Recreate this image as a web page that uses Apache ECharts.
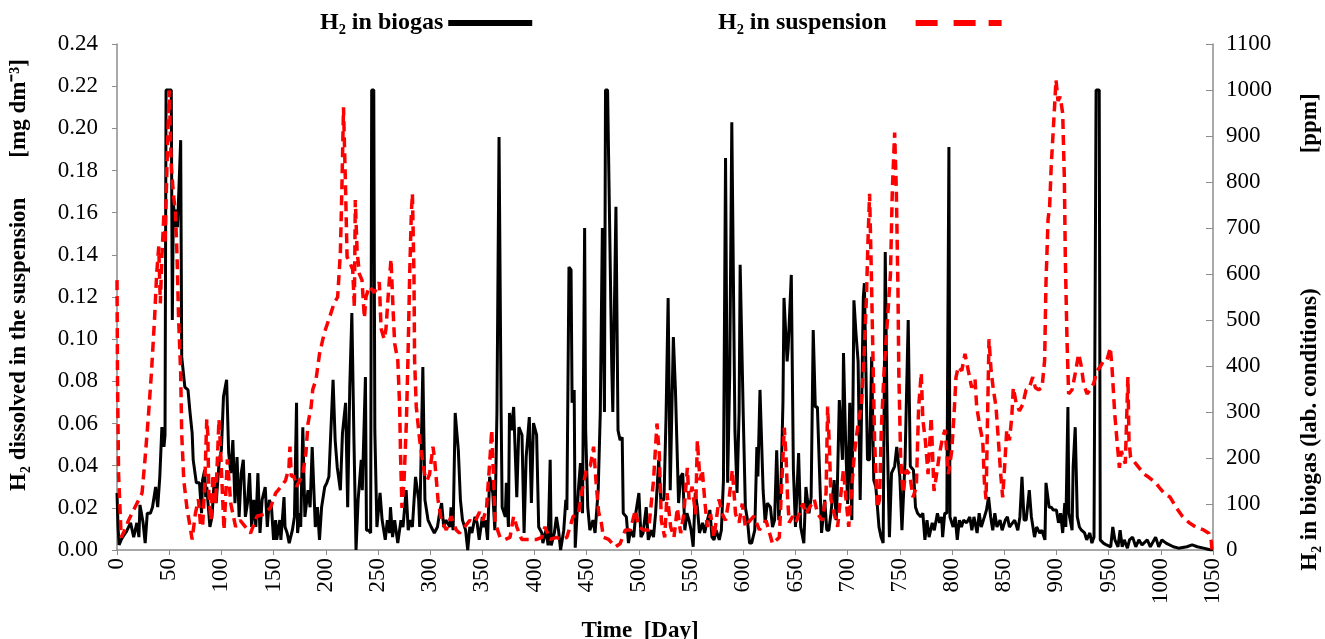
<!DOCTYPE html>
<html>
<head>
<meta charset="utf-8">
<script src="https://cdn.jsdelivr.net/npm/echarts@6/dist/echarts.min.js"></script>
<style>
html,body{margin:0;padding:0;background:#fff;}
#chart{width:1325px;height:639px;}
</style>
</head>
<body>
<div id="chart"></div>
<script>
// Day ticks (x axis), left axis [mg dm-3], right axis [ppm]
const dayTicks = [0,50,100,150,200,250,300,350,400,450,500,550,600,650,700,750,800,850,900,950,1000,1050];
const leftTicks = [0,0.02,0.04,0.06,0.08,0.10,0.12,0.14,0.16,0.18,0.20,0.22,0.24];
const rightTicks = [0,100,200,300,400,500,600,700,800,900,1000,1100];

const seriesNames = ['H\u2082 in biogas', 'H\u2082 in suspension'];

// H2 in biogas [day, ppm]
const biogasData = [[0,124],[1,50],[2,11],[4,22],[6,30],[9,40],[13,59],[16,28],[19,59],[21,28],[22,98],[25,59],[27,15],[29,80],[32,80],[34,93],[37,137],[39,93],[41,159],[43,267],[45,224],[46,250],[47,1000],[52,1000],[53,500],[54,754],[56,702],[57,740],[58,702],[61,891],[62,420],[63,398],[65,354],[68,348],[70,298],[72,254],[73,196],[76,146],[79,146],[81,80],[82,152],[84,174],[85,115],[86,137],[89,50],[91,72],[93,146],[95,102],[98,196],[100,217],[102,333],[105,370],[107,211],[109,167],[111,239],[113,102],[115,202],[117,72],[119,167],[121,196],[123,72],[125,102],[127,167],[129,50],[131,109],[133,50],[135,167],[137,37],[139,109],[142,137],[144,50],[146,109],[148,93],[150,22],[152,65],[153,22],[156,65],[157,22],[160,115],[161,50],[163,37],[165,15],[168,43],[170,72],[172,320],[173,37],[175,80],[176,50],[178,267],[180,72],[183,130],[185,93],[187,224],[190,50],[192,93],[194,22],[196,93],[199,137],[201,146],[203,159],[207,370],[209,239],[211,180],[214,130],[216,254],[219,320],[221,93],[223,354],[225,515],[227,239],[229,0],[231,109],[234,196],[235,130],[238,376],[239,43],[241,43],[243,37],[244,1000],[246,1000],[247,260],[249,50],[252,124],[254,65],[257,22],[259,65],[261,37],[262,93],[264,28],[266,65],[269,15],[272,65],[274,50],[277,130],[279,43],[281,65],[283,50],[286,159],[289,109],[290,50],[293,398],[295,109],[298,65],[301,50],[304,37],[307,50],[309,80],[311,102],[313,50],[315,65],[319,50],[320,93],[322,43],[324,298],[327,217],[329,109],[331,65],[334,43],[336,0],[338,50],[340,37],[343,72],[345,59],[347,22],[350,72],[351,50],[353,65],[355,22],[357,159],[360,124],[362,43],[364,300],[366,898],[368,300],[369,93],[372,72],[373,146],[375,50],[376,298],[378,260],[380,311],[383,115],[385,267],[388,250],[390,37],[392,202],[395,289],[397,102],[399,276],[402,250],[404,50],[407,37],[408,15],[411,43],[413,10],[415,196],[416,10],[419,37],[421,72],[423,43],[425,0],[428,43],[430,109],[431,87],[433,615],[435,609],[436,320],[438,348],[439,5],[442,130],[444,189],[446,80],[448,700],[449,260],[451,93],[453,43],[456,65],[458,37],[461,130],[463,298],[465,700],[467,300],[468,1000],[470,1000],[474,398],[475,300],[478,746],[480,260],[482,239],[484,245],[485,80],[488,72],[490,15],[492,43],[495,28],[497,80],[500,124],[502,28],[504,37],[507,93],[509,22],[512,43],[514,28],[516,80],[519,196],[521,109],[524,109],[526,289],[528,548],[530,130],[533,463],[535,348],[538,102],[540,159],[542,167],[544,43],[546,80],[548,65],[550,43],[552,7],[554,124],[556,93],[558,37],[561,59],[563,37],[565,59],[568,87],[570,28],[572,22],[574,43],[577,22],[579,43],[581,152],[583,852],[585,146],[587,380],[589,930],[592,260],[594,124],[596,300],[597,620],[600,290],[602,93],[604,65],[606,15],[608,15],[611,43],[613,224],[614,160],[616,348],[619,130],[621,59],[623,102],[626,93],[628,50],[630,65],[632,217],[634,65],[636,130],[638,320],[639,548],[642,410],[643,440],[646,598],[648,174],[650,50],[653,211],[655,50],[658,15],[660,137],[663,80],[665,115],[667,478],[669,311],[671,311],[673,174],[675,37],[678,109],[680,43],[682,43],[684,80],[687,152],[689,65],[690,124],[692,326],[695,196],[696,428],[698,239],[700,100],[702,320],[704,65],[706,543],[708,470],[710,410],[712,109],[715,550],[716,580],[719,196],[721,196],[723,420],[725,152],[727,137],[730,50],[732,28],[734,15],[736,648],[738,239],[740,28],[742,167],[745,182],[747,224],[750,159],[752,43],[755,196],[758,500],[760,182],[763,174],[765,93],[767,80],[770,72],[772,80],[774,22],[776,65],[778,28],[781,59],[783,43],[786,80],[788,59],[790,72],[791,28],[793,80],[795,80],[797,876],[798,72],[801,50],[803,72],[805,22],[807,65],[809,50],[811,65],[814,59],[817,72],[819,43],[821,72],[824,37],[826,80],[828,50],[831,72],[833,87],[835,115],[837,72],[839,43],[841,80],[843,50],[846,65],[848,43],[851,65],[853,72],[855,50],[858,59],[860,65],[863,43],[865,72],[867,159],[869,65],[871,65],[874,130],[876,72],[879,28],[881,50],[884,37],[886,43],[889,22],[890,146],[893,93],[895,93],[897,87],[900,87],[902,59],[904,80],[906,37],[908,102],[909,50],[911,311],[912,80],[915,43],[916,180],[918,267],[920,72],[922,50],[924,43],[927,37],[929,22],[932,37],[934,15],[936,28],[938,1000],[941,1000],[942,22],[945,15],[948,11],[952,7],[954,50],[956,22],[959,7],[961,43],[963,7],[965,22],[968,4],[970,22],[973,28],[976,7],[979,22],[982,11],[987,22],[990,7],[995,28],[998,7],[1001,22],[1005,15],[1012,7],[1017,4],[1025,7],[1030,11],[1035,7],[1041,4],[1048,0],[1050,0]];

// H2 in suspension [day, mg dm-3]
const suspensionData = [[0,0.128],[0.5,0.08],[1.5,0.036],[4,0.006],[8,0.01],[11,0.014],[17,0.02],[24,0.027],[27,0.044],[30,0.063],[33,0.084],[36,0.11],[38,0.131],[40,0.144],[41.5,0.117],[43,0.139],[45,0.16],[46,0.145],[48,0.185],[50,0.218],[52,0.182],[54,0.169],[56,0.16],[57.5,0.14],[59,0.11],[61,0.084],[62,0.055],[64,0.033],[67,0.02],[70,0.011],[72,0.005],[75,0.017],[78,0.024],[80,0.012],[82,0.011],[84,0.03],[86,0.062],[87,0.055],[88,0.027],[90,0.014],[92,0.036],[94.5,0.022],[97.7,0.062],[99,0.05],[101,0.027],[102.5,0.0095],[104,0.024],[105.7,0.043],[107,0.035],[109,0.022],[113.6,0.011],[118,0.014],[123,0.011],[128,0.008],[134,0.016],[141,0.017],[147,0.02],[152,0.027],[157,0.03],[161.5,0.033],[164.7,0.039],[165.7,0.049],[167,0.035],[169.5,0.035],[172,0.03],[178,0.036],[181,0.046],[183,0.06],[186,0.068],[187.5,0.076],[190.7,0.081],[194,0.093],[198.6,0.103],[203.4,0.11],[208,0.117],[211.4,0.12],[214,0.141],[215.6,0.175],[217,0.21],[218.8,0.175],[220.4,0.139],[222.6,0.137],[225.8,0.133],[227.4,0.115],[228.3,0.166],[230,0.142],[232.2,0.131],[234.7,0.128],[237,0.11],[238.5,0.12],[241.7,0.125],[246.5,0.122],[251.3,0.127],[253,0.105],[256,0.1],[257.7,0.105],[260,0.122],[262.5,0.138],[264.4,0.115],[266,0.098],[269,0.09],[270.8,0.068],[271.7,0.044],[273,0.02],[275,0.033],[277.2,0.06],[278.8,0.092],[280.4,0.131],[282,0.16],[283,0.169],[284.5,0.131],[285.1,0.09],[286.7,0.068],[290,0.052],[294.7,0.036],[297,0.033],[299.5,0.036],[302.7,0.049],[304.3,0.043],[307.5,0.024],[310.7,0.014],[315.5,0.0095],[320,0.016],[325,0.0095],[328,0.008],[333,0.011],[338,0.014],[342.6,0.013],[347.4,0.018],[350.6,0.014],[354,0.02],[357.4,0.044],[359,0.057],[360.6,0.036],[362.2,0.013],[367,0.006],[371.7,0.005],[376.5,0.006],[380,0.016],[383,0.011],[387.7,0.005],[392.5,0.005],[397.3,0.005],[402,0.005],[407,0.006],[410,0.011],[415,0.005],[421,0.006],[426,0.005],[431,0.006],[434,0.011],[437,0.016],[442,0.017],[445.5,0.028],[450,0.039],[453.5,0.04],[456.6,0.049],[459,0.032],[461.4,0.018],[464,0.013],[466,0.006],[471,0.005],[477.4,0.0015],[482,0.003],[487,0.0095],[491.8,0.0095],[496.6,0.019],[499.8,0.011],[504.5,0.0095],[509.3,0.0095],[514,0.033],[517.3,0.06],[519.6,0.045],[521.5,0.014],[524.7,0.006],[527,0.027],[530.4,0.011],[533.6,0.006],[536.8,0.02],[540,0.008],[543,0.017],[546.4,0.039],[548,0.024],[551,0.03],[554.3,0.017],[556,0.052],[558.5,0.033],[560.7,0.038],[563,0.024],[565.5,0.011],[568.7,0.017],[572,0.006],[576.7,0.024],[580,0.017],[583,0.014],[586.3,0.024],[589.5,0.038],[592.6,0.017],[596,0.013],[599,0.022],[602,0.011],[606.4,0.014],[610.2,0.016],[615.4,0.0095],[621.8,0.014],[628,0.003],[634.5,0.006],[639.3,0.058],[641,0.044],[642.5,0.024],[644,0.013],[647.3,0.016],[650.5,0.013],[657,0.022],[660,0.017],[663.3,0.02],[668,0.024],[671.3,0.017],[676,0.014],[679.3,0.027],[680.8,0.068],[682.5,0.049],[684,0.024],[687.2,0.017],[690.4,0.011],[693.6,0.027],[695.9,0.038],[698.4,0.024],[701,0.011],[703.5,0.027],[706.7,0.047],[710,0.06],[713,0.068],[715.6,0.09],[717.9,0.119],[719.5,0.147],[721,0.169],[722.7,0.131],[724.3,0.09],[725.8,0.052],[728.4,0.02],[730.6,0.024],[732.2,0.057],[734.8,0.084],[738.6,0.113],[741,0.131],[742.8,0.171],[745,0.198],[746.6,0.171],[748.2,0.123],[749,0.084],[750.8,0.043],[753,0.027],[756,0.038],[759.4,0.036],[762.6,0.025],[765.8,0.03],[768,0.068],[770.5,0.084],[772,0.062],[774.4,0.052],[777,0.036],[780,0.063],[782.7,0.028],[784.9,0.035],[788.1,0.046],[791.3,0.054],[793.3,0.057],[796.5,0.036],[799.7,0.047],[802,0.065],[803.8,0.082],[806,0.087],[809.3,0.085],[812.4,0.093],[815.6,0.085],[818.8,0.077],[822,0.081],[823.6,0.068],[826.8,0.058],[829.4,0.052],[831,0.032],[832.6,0.024],[834.2,0.068],[835.4,0.1],[837.4,0.085],[839.6,0.076],[842.1,0.068],[844.4,0.052],[846.6,0.036],[848.5,0.025],[850.8,0.043],[852.4,0.057],[855,0.052],[857.2,0.063],[858.7,0.077],[861.3,0.07],[864.5,0.066],[867.7,0.069],[870.9,0.076],[874,0.077],[877.3,0.082],[879.8,0.077],[883,0.076],[886.2,0.077],[888.7,0.09],[890,0.127],[892,0.157],[893.5,0.163],[895,0.182],[897.4,0.203],[899.6,0.223],[901.5,0.213],[903.7,0.215],[906,0.207],[907.6,0.176],[908.5,0.139],[910.1,0.1],[911.7,0.074],[915,0.076],[918.1,0.084],[921.3,0.093],[923.9,0.087],[926,0.079],[929.3,0.074],[932.5,0.076],[935.7,0.079],[938.9,0.085],[942,0.087],[945.3,0.09],[948.4,0.09],[951.6,0.096],[953.2,0.087],[955.8,0.065],[958,0.052],[960.3,0.039],[962.2,0.047],[964.4,0.043],[966,0.041],[967.6,0.068],[968.5,0.082],[969.5,0.052],[971,0.044],[976,0.041],[984,0.036],[987,0.035],[995,0.032],[998,0.03],[1003,0.027],[1009,0.025],[1015,0.02],[1020.6,0.016],[1027,0.013],[1033,0.011],[1041,0.0095],[1046,0.008],[1048.4,0.004],[1049,0.0]];

const FONT = '"Liberation Serif","Times New Roman",serif';
const axisGrey = '#8c8c8c';
const titleStyle = {fontFamily: FONT, fontWeight: 'bold', fontSize: 23, color: '#000'};

const chart = echarts.init(document.getElementById('chart'), null, {renderer:'canvas'});
chart.setOption({
  animation: false,
  backgroundColor: '#ffffff',
  grid: {left: 117, right: 112, top: 44, bottom: 89, containLabel: false, outerBoundsMode: 'none'},
  legend: [
    {data: [{name: seriesNames[0], icon: 'rect'}], left: 315, top: 6, align: 'right',
     itemWidth: 84, itemHeight: 6,
     textStyle: {fontFamily: FONT, fontWeight: 'bold', fontSize: 24, color: '#000'}},
    {data: [{name: seriesNames[1],
             icon: 'path://M0,0h22v6h-22z M38,0h22v6h-22z M73,0h13v6h-13z'}],
     left: 713, top: 6, align: 'right', itemWidth: 86, itemHeight: 6,
     textStyle: {fontFamily: FONT, fontWeight: 'bold', fontSize: 24, color: '#000', padding: [0, 24, 0, 0]}}
  ],
  xAxis: {
    type: 'value', min: dayTicks[0], max: dayTicks[dayTicks.length - 1], interval: 50,
    name: 'Time  [Day]', nameLocation: 'middle', nameGap: 70,
    nameTextStyle: Object.assign({padding: [0, 50, 0, 0]}, titleStyle),
    axisLine: {lineStyle: {color: axisGrey, width: 1.5}},
    axisTick: {show: true, length: 5, lineStyle: {color: axisGrey}},
    splitLine: {show: false},
    axisLabel: {rotate: 90, fontFamily: FONT, fontSize: 23, color: '#000', margin: 8,
      formatter: v => dayTicks.includes(v) ? String(v) : ''}
  },
  yAxis: [
    {
      type: 'value', min: leftTicks[0], max: leftTicks[leftTicks.length - 1], interval: 0.02,
      position: 'left',
      name: '{t|H\u2082 dissolved in the suspension}{g| }{t|[mg dm\u207B\u00B3]}',
      nameLocation: 'middle', nameRotate: 90, nameGap: 86,
      nameTextStyle: Object.assign({padding: [0, 0, 0, 44],
        rich: {t: titleStyle, g: {width: 40}}}, titleStyle),
      axisLine: {show: true, lineStyle: {color: axisGrey, width: 1.5}},
      axisTick: {show: true, length: 5, lineStyle: {color: axisGrey}},
      splitLine: {show: false},
      axisLabel: {fontFamily: FONT, fontSize: 23, color: '#000', margin: 19,
        formatter: v => v.toFixed(2)}
    },
    {
      type: 'value', min: rightTicks[0], max: rightTicks[rightTicks.length - 1], interval: 100,
      position: 'right',
      name: '{t|H\u2082 in biogas (lab. conditions)}{g| }{t|[ppm]}',
      nameLocation: 'middle', nameRotate: 90, nameGap: 86,
      nameTextStyle: Object.assign({padding: [0, 70, 0, 0],
        rich: {t: titleStyle, g: {width: 135}}}, titleStyle),
      axisLine: {show: true, lineStyle: {color: axisGrey, width: 1.5}},
      axisTick: {show: true, inside: true, length: 7, lineStyle: {color: axisGrey}},
      splitLine: {show: false},
      axisLabel: {fontFamily: FONT, fontSize: 23, color: '#000', margin: 13,
        formatter: v => String(v)}
    }
  ],
  series: [
    {
      name: seriesNames[0], type: 'line', yAxisIndex: 1, data: biogasData,
      symbol: 'none', showSymbol: false, color: '#000000',
      lineStyle: {color: '#000000', width: 3}, z: 2
    },
    {
      name: seriesNames[1], type: 'line', yAxisIndex: 0, data: suspensionData,
      symbol: 'none', showSymbol: false, color: '#ff0000',
      lineStyle: {color: '#ff0000', width: 3.5, type: [10, 6]}, z: 3
    }
  ]
});
</script>
</body>
</html>
